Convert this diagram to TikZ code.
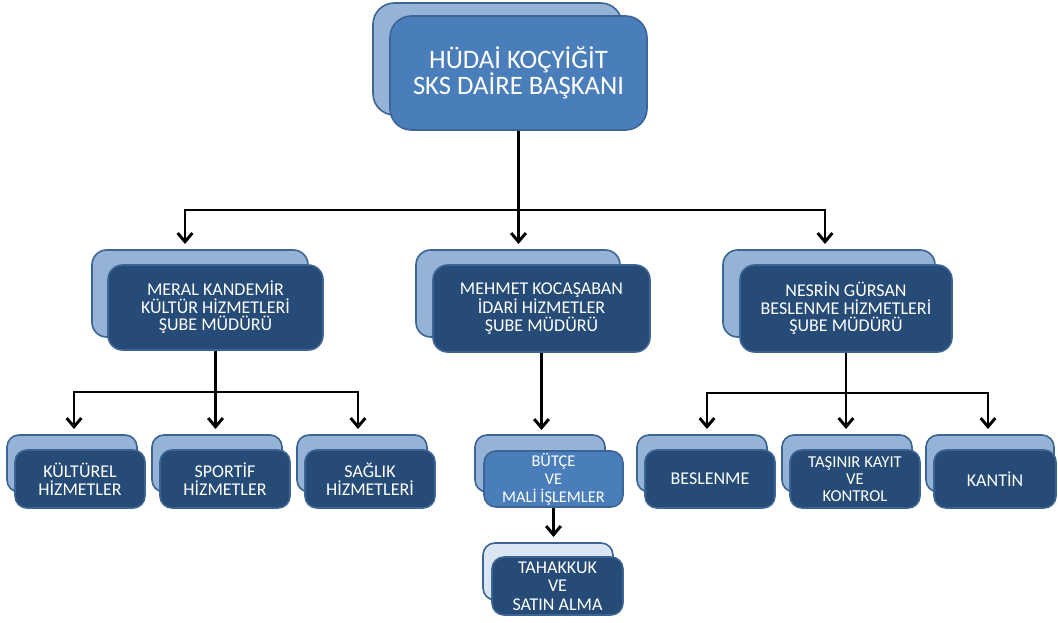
\documentclass[tikz,border=0pt]{standalone}
\usepackage{fontspec}
\setmainfont{Carlito}
\usetikzlibrary{arrows.meta}
\definecolor{backblue}{HTML}{95B3D7}
\definecolor{paleblue}{HTML}{DCE6F2}
\definecolor{edgeblue}{HTML}{3C6494}
\definecolor{midblue}{HTML}{4A7EBB}
\definecolor{navy}{HTML}{264B77}

\begin{document}
\begin{tikzpicture}[x=0.75pt,y=-0.75pt,
        back/.style={draw=edgeblue, fill=backblue, line width=1.2pt, rounded corners=9pt, inner sep=0pt},
        front/.style={draw=edgeblue, fill=navy, line width=1.2pt, rounded corners=9pt, inner sep=0pt,
            text=white, align=center, font=\fontsize{13.5}{13.2}\selectfont},
        link/.style={line width=2.2pt},
        >={Straight Barb[length=6.5pt,width=11pt]}]
        \useasboundingbox (0,0) rectangle (1058,622);

        \node[back, minimum width=186.75pt, minimum height=84pt, rounded corners=16pt] (topback) at (497.5,59) {};
        \node[front, fill=midblue, minimum width=192.75pt, minimum height=85.5pt, rounded corners=16pt,
            font=\fontsize{20}{20}\selectfont] (hudai) at (518.5,73) {HÜDAİ KOÇYİĞİT\\SKS DAİRE BAŞKANI};

        \node[back, minimum width=162pt, minimum height=65.25pt, rounded corners=11pt] (meralback) at (200,293.5) {};
        \node[front, minimum width=161.25pt, minimum height=63.75pt, rounded corners=11pt] (meral) at (215.5,307.5)
            {MERAL KANDEMİR\\KÜLTÜR HİZMETLERİ\\ŞUBE MÜDÜRÜ};

        \node[back, minimum width=153pt, minimum height=65.25pt, rounded corners=11pt] (mehmetback) at (518,293.5) {};
        \node[front, minimum width=162.75pt, minimum height=65.25pt, rounded corners=11pt] (mehmet) at (541.5,308.5)
            {MEHMET KOCAŞABAN\\İDARİ HİZMETLER\\ŞUBE MÜDÜRÜ};

        \node[back, minimum width=159pt, minimum height=65.25pt, rounded corners=11pt] (nesrinback) at (829,293.5) {};
        \node[front, minimum width=159pt, minimum height=65.25pt, rounded corners=11pt] (nesrin) at (846,308.5)
            {NESRİN GÜRSAN\\BESLENME HİZMETLERİ\\ŞUBE MÜDÜRÜ};

        \node[back, minimum width=97.5pt, minimum height=42.75pt] (kulturback) at (72,463.5) {};
        \node[front, minimum width=97.5pt, minimum height=43.5pt, font=\fontsize{13.5}{13.6}\selectfont] (kultur) at (80,479) {KÜLTÜREL\\HİZMETLER};

        \node[back, minimum width=97.5pt, minimum height=42.75pt] (sporback) at (217,463.5) {};
        \node[front, minimum width=97.5pt, minimum height=43.5pt, font=\fontsize{13.5}{13.6}\selectfont] (spor) at (225,479) {SPORTİF\\HİZMETLER};

        \node[back, minimum width=97.5pt, minimum height=42.75pt] (saglikback) at (362,463.5) {};
        \node[front, minimum width=97.5pt, minimum height=43.5pt, font=\fontsize{13.5}{13.6}\selectfont] (saglik) at (370,479) {SAĞLIK\\HİZMETLERİ};

        \node[back, minimum width=97.5pt, minimum height=42.75pt] (butceback) at (540,463.5) {};
        \node[front, fill=midblue, minimum width=104.25pt, minimum height=42pt,
            font=\fontsize{12.3}{13.4}\selectfont] (butce) at (553.5,479) {BÜTÇE\\VE\\MALİ İŞLEMLER};

        \node[back, fill=paleblue, minimum width=97.5pt, minimum height=42.75pt] (tahakkukback) at (548,571.5) {};
        \node[front, minimum width=98.25pt, minimum height=43.5pt,
            font=\fontsize{13.5}{14}\selectfont] (tahakkuk) at (557.5,586) {TAHAKKUK\\VE\\SATIN ALMA};

        \node[back, minimum width=97.5pt, minimum height=42.75pt] (beslenmeback) at (702,463.5) {};
        \node[front, minimum width=97.5pt, minimum height=43.5pt] (beslenme) at (710,479) {BESLENME};

        \node[back, minimum width=97.5pt, minimum height=42.75pt] (tasinirback) at (847,463.5) {};
        \node[front, minimum width=97.5pt, minimum height=43.5pt,
            font=\fontsize{12.5}{12.5}\selectfont] (tasinir) at (855,479) {TAŞINIR KAYIT\\VE\\KONTROL};

        \node[back, minimum width=96pt, minimum height=42.75pt] (kantinback) at (990,463.5) {};
        \node[front, minimum width=91.5pt, minimum height=43.5pt] (kantin) at (995,479) {KANTİN};

        \coordinate (j0) at (518.5,210);
        \coordinate (a1) at (185,244);
        \coordinate (a2) at (518.5,244);
        \coordinate (a3) at (825,244);
        \draw[link] (hudai.south) -- (j0);
        \draw[link,->] (j0) -| (a1);
        \draw[link,->] (j0) -- (a2);
        \draw[link,->] (j0) -| (a3);

        \coordinate (j1) at (215.5,392);
        \coordinate (b1) at (74,429);
        \coordinate (b2) at (215.5,429);
        \coordinate (b3) at (358,429);
        \draw[link] (meral.south) -- (j1);
        \draw[link,->] (j1) -| (b1);
        \draw[link,->] (j1) -- (b2);
        \draw[link,->] (j1) -| (b3);

        \coordinate (c1) at (541.5,430);
        \coordinate (c2) at (553.5,537);
        \draw[link,->] (mehmet.south) -- (c1);
        \draw[link,->] (butce.south) -- (c2);

        \coordinate (j2) at (846,393);
        \coordinate (d1) at (707,429);
        \coordinate (d2) at (846,429);
        \coordinate (d3) at (988,429);
        \draw[link] (nesrin.south) -- (j2);
        \draw[link,->] (j2) -| (d1);
        \draw[link,->] (j2) -- (d2);
        \draw[link,->] (j2) -| (d3);

    \end{tikzpicture}
\end{document}
